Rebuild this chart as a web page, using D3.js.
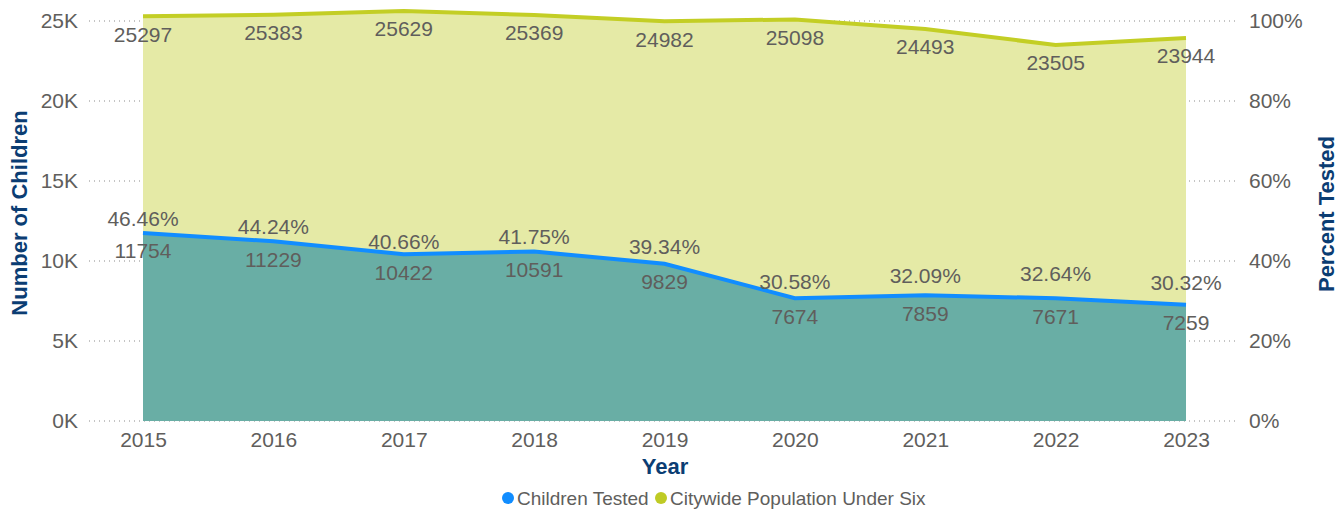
<!DOCTYPE html>
<html>
<head>
<meta charset="utf-8">
<script src="https://cdn.jsdelivr.net/npm/d3@7"></script>
<style>
  body { margin: 0; background: #fff; }
  svg { display: block; font-family: "Liberation Sans", Arial, sans-serif; }
</style>
</head>
<body>
<div id="chart"></div>
<script>
var years = ['2015', '2016', '2017', '2018', '2019', '2020', '2021', '2022', '2023'];
var population = [25297, 25383, 25629, 25369, 24982, 25098, 24493, 23505, 23944];
var tested = [11754, 11229, 10422, 10591, 9829, 7674, 7859, 7671, 7259];
var percentTested = [46.46, 44.24, 40.66, 41.75, 39.34, 30.58, 32.09, 32.64, 30.32];
var leftTicks = [0, 5000, 10000, 15000, 20000, 25000];
var rightTicks = [0, 20, 40, 60, 80, 100];
var legendNames = ['Children Tested', 'Citywide Population Under Six'];

var width = 1344, height = 510;
var textGray = '#605E5C';
var titleBlue = '#0B3D73';

var svg = d3.select('#chart').append('svg')
    .attr('width', width)
    .attr('height', height);

var x = d3.scalePoint().domain(years).range([143, 1186]);
var yL = d3.scaleLinear().domain([0, 25000]).range([421, 21]);
var yR = d3.scaleLinear().domain([0, 100]).range([421, 21]);

// gridlines
svg.append('g').selectAll('line')
    .data(leftTicks)
    .enter().append('line')
    .attr('x1', 89).attr('x2', 1238)
    .attr('y1', function(d) { return yL(d); })
    .attr('y2', function(d) { return yL(d); })
    .attr('stroke', '#8a8a8a')
    .attr('stroke-width', 1)
    .attr('stroke-dasharray', '1,4');

// areas
var popArea = d3.area()
    .x(function(d, i) { return x(years[i]); })
    .y0(yL(0))
    .y1(function(d) { return yL(d); });
svg.append('path')
    .datum(population)
    .attr('d', popArea)
    .attr('fill', '#E5EAA6');

svg.append('path')
    .datum(tested)
    .attr('d', popArea)
    .attr('fill', '#69AEA5');

// lines
var line = d3.line()
    .x(function(d, i) { return x(years[i]); })
    .y(function(d) { return yL(d); });
svg.append('path')
    .datum(population)
    .attr('d', line)
    .attr('fill', 'none')
    .attr('stroke', '#C3CE25')
    .attr('stroke-width', 4);
svg.append('path')
    .datum(tested)
    .attr('d', line)
    .attr('fill', 'none')
    .attr('stroke', '#118DFF')
    .attr('stroke-width', 4);

// axes
var axisL = svg.append('g')
    .attr('transform', 'translate(78,0)')
    .call(d3.axisLeft(yL).tickValues(leftTicks).tickSize(0).tickPadding(0)
        .tickFormat(function(d) { return (d / 1000) + 'K'; }));
axisL.select('.domain').remove();

var axisR = svg.append('g')
    .attr('transform', 'translate(1249,0)')
    .call(d3.axisRight(yR).tickValues(rightTicks).tickSize(0).tickPadding(0)
        .tickFormat(function(d) { return d + '%'; }));
axisR.select('.domain').remove();

var axisB = svg.append('g')
    .attr('transform', 'translate(0,431)')
    .call(d3.axisBottom(x).tickSize(0).tickPadding(0));
axisB.select('.domain').remove();

svg.selectAll('.tick text')
    .attr('fill', textGray)
    .style('font-size', '21px')
    .style('font-family', '"Liberation Sans", Arial, sans-serif');
axisB.selectAll('.tick text').attr('dy', '0.75em');

// axis titles
svg.append('text')
    .attr('x', 665).attr('y', 474)
    .attr('text-anchor', 'middle')
    .attr('fill', titleBlue)
    .style('font-size', '22px')
    .style('font-weight', 'bold')
    .text('Year');
svg.append('text')
    .attr('transform', 'translate(27,213) rotate(-90)')
    .attr('text-anchor', 'middle')
    .attr('fill', titleBlue)
    .style('font-size', '22px')
    .style('font-weight', 'bold')
    .text('Number of Children');
svg.append('text')
    .attr('transform', 'translate(1334,214) rotate(-90)')
    .attr('text-anchor', 'middle')
    .attr('fill', titleBlue)
    .style('font-size', '22px')
    .style('font-weight', 'bold')
    .text('Percent Tested');

// data labels
var labels = svg.append('g')
    .attr('fill', textGray)
    .attr('text-anchor', 'middle')
    .style('font-size', '21px');
labels.selectAll('.pop')
    .data(population)
    .enter().append('text')
    .attr('x', function(d, i) { return x(years[i]); })
    .attr('y', function(d) { return yL(d) + 18; })
    .attr('dy', '0.35em')
    .text(function(d) { return d; });
labels.selectAll('.tested')
    .data(tested)
    .enter().append('text')
    .attr('x', function(d, i) { return x(years[i]); })
    .attr('y', function(d) { return yL(d) + 18; })
    .attr('dy', '0.35em')
    .text(function(d) { return d; });
labels.selectAll('.pct')
    .data(percentTested)
    .enter().append('text')
    .attr('x', function(d, i) { return x(years[i]); })
    .attr('y', function(d) { return yR(d) - 17; })
    .attr('dy', '0.35em')
    .text(function(d) { return d.toFixed(2) + '%'; });

// legend
var legendColors = ['#118DFF', '#BFCB25'];
var legendX = [508, 661];
var legend = svg.append('g');
legendNames.forEach(function(name, i) {
    legend.append('circle')
        .attr('cx', legendX[i]).attr('cy', 498).attr('r', 6)
        .attr('fill', legendColors[i]);
    legend.append('text')
        .attr('x', legendX[i] + 9).attr('y', 498)
        .attr('dy', '0.35em')
        .attr('fill', textGray)
        .style('font-size', '19px')
        .text(name);
});
</script>
</body>
</html>
